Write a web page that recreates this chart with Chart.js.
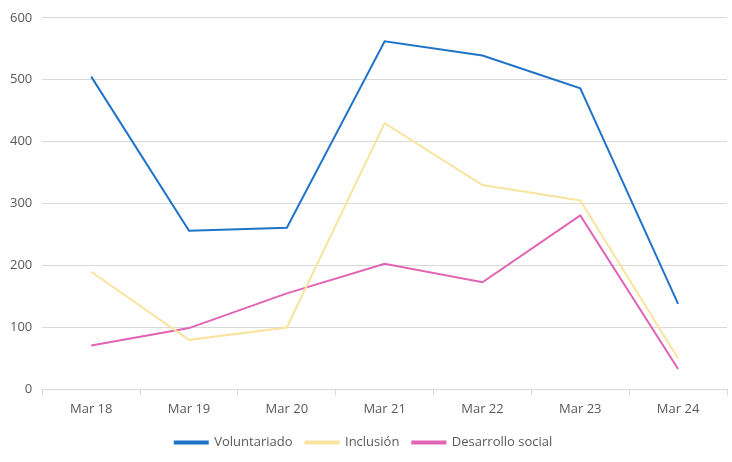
<!DOCTYPE html>
<html>
<head>
<meta charset="utf-8">
<script src="https://cdn.jsdelivr.net/npm/chart.js@4/dist/chart.umd.min.js"></script>
<style>
  body { margin: 0; background: #fff; }
  #wrap { width: 732px; height: 462px; }
</style>
</head>
<body>
<div id="wrap"><canvas id="myChart" width="732" height="462"></canvas></div>
<script>
// Datos del gráfico
const categories = ['Mar 18', 'Mar 19', 'Mar 20', 'Mar 21', 'Mar 22', 'Mar 23', 'Mar 24'];
const voluntariado = [505, 256, 261, 562, 539, 486, 138];
const inclusion = [190, 80, 100, 430, 330, 305, 50];
const desarrolloSocial = [71, 99, 155, 203, 173, 281, 33];
const yTicks = [0, 100, 200, 300, 400, 500, 600];

const font = { family: '"Open Sans", sans-serif', size: 13 };
const textColor = '#595959';
const gridColor = '#d9d9d9';

function serie(label, values, color) {
    return {
        label: label,
        data: values,
        borderColor: color,
        backgroundColor: color,
        borderWidth: 2,
        pointRadius: 0,
        tension: 0,
        fill: false
    };
}

new Chart(document.getElementById('myChart'), {
    type: 'line',
    data: {
        labels: categories,
        datasets: [
            serie('Voluntariado', voluntariado, '#1f74c7'),
            serie('Inclusión', inclusion, '#f8e49f'),
            serie('Desarrollo social', desarrolloSocial, '#e163b3')
        ]
    },
    options: {
        responsive: false,
        animation: false,
        layout: { padding: { left: 0, right: 5, top: 3, bottom: 3 } },
        plugins: {
            legend: {
                position: 'bottom',
                labels: {
                    font: font,
                    color: textColor,
                    boxWidth: 33,
                    boxHeight: 2,
                    padding: 13
                }
            },
            tooltip: { enabled: false }
        },
        scales: {
            x: {
                offset: true,
                grid: {
                    offset: true,
                    drawOnChartArea: false,
                    color: gridColor,
                    tickLength: 6
                },
                border: { color: gridColor },
                ticks: { font: font, color: textColor, padding: 6 }
            },
            y: {
                min: 0,
                max: 600,
                afterBuildTicks: (axis) => { axis.ticks = yTicks.map(v => ({ value: v })); },
                grid: { color: gridColor, tickLength: 0 },
                border: { display: false },
                ticks: { font: font, color: textColor, padding: 10 }
            }
        }
    }
});
</script>
</body>
</html>
